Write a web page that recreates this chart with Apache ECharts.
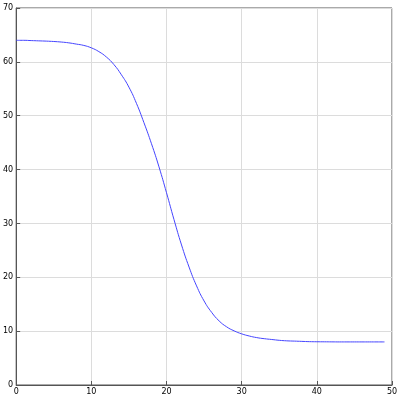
<!DOCTYPE html>
<html>
<head>
<meta charset="utf-8">
<script src="https://cdn.jsdelivr.net/npm/echarts@6/dist/echarts.min.js"></script>
<style>
    html, body { margin: 0; padding: 0; background: #fff; }
    #chart { width: 401px; height: 400px; }
</style>
</head>
<body>
<div id="chart"></div>
<script>
// values, x = 0..49
var x_values = [];
for (var i = 0; i < 50; i++) {
    x_values.push(i);
}
var y_values = [
    64.0, 64.0, 63.95, 63.9, 63.85, 63.78, 63.68, 63.53, 63.3, 63.05,
    62.6, 61.9, 60.9, 59.5, 57.6, 55.3, 52.3, 48.7, 44.8, 40.5,
    35.7, 30.7, 26.0, 21.9, 18.4, 15.6, 13.5, 11.9, 10.8, 10.05,
    9.5, 9.1, 8.8, 8.6, 8.45, 8.3, 8.2, 8.15, 8.1, 8.05,
    8.03, 8.02, 8.01, 8.0, 8.0, 8.0, 8.0, 8.0, 8.0, 8.0
];
var x_ticks = [0, 10, 20, 30, 40, 50];
var y_ticks = [0, 10, 20, 30, 40, 50, 60, 70];

var chart = echarts.init(document.getElementById('chart'));

var points = [];
for (var j = 0; j < x_values.length; j++) {
    points.push([x_values[j], y_values[j]]);
}

var axis_line = {show: true, lineStyle: {color: '#555', width: 1}};
var label_style = {color: '#000', fontSize: 8, fontFamily: 'DejaVu Sans'};

var option = {
    animation: false,
    grid: {
        left: 16,
        right: 9,
        top: 8,
        bottom: 15,
        show: true,
        borderColor: '#555',
        borderWidth: 1
    },
    xAxis: {
        type: 'value',
        min: x_ticks[0],
        max: x_ticks[x_ticks.length - 1],
        interval: 10,
        axisLine: axis_line,
        axisTick: {show: true, inside: true, length: 4, lineStyle: {color: '#555'}},
        axisLabel: Object.assign({margin: 3}, label_style),
        splitLine: {show: true, lineStyle: {color: '#dcdcdc', width: 1}}
    },
    yAxis: {
        type: 'value',
        min: y_ticks[0],
        max: y_ticks[y_ticks.length - 1],
        interval: 10,
        axisLine: axis_line,
        axisTick: {show: true, inside: true, length: 4, lineStyle: {color: '#555'}},
        axisLabel: Object.assign({margin: 3}, label_style),
        splitLine: {show: true, lineStyle: {color: '#dcdcdc', width: 1}}
    },
    series: [{
        type: 'line',
        data: points,
        showSymbol: false,
        smooth: true,
        lineStyle: {color: '#4444ff', width: 1}
    }]
};
chart.setOption(option);
</script>
</body>
</html>
